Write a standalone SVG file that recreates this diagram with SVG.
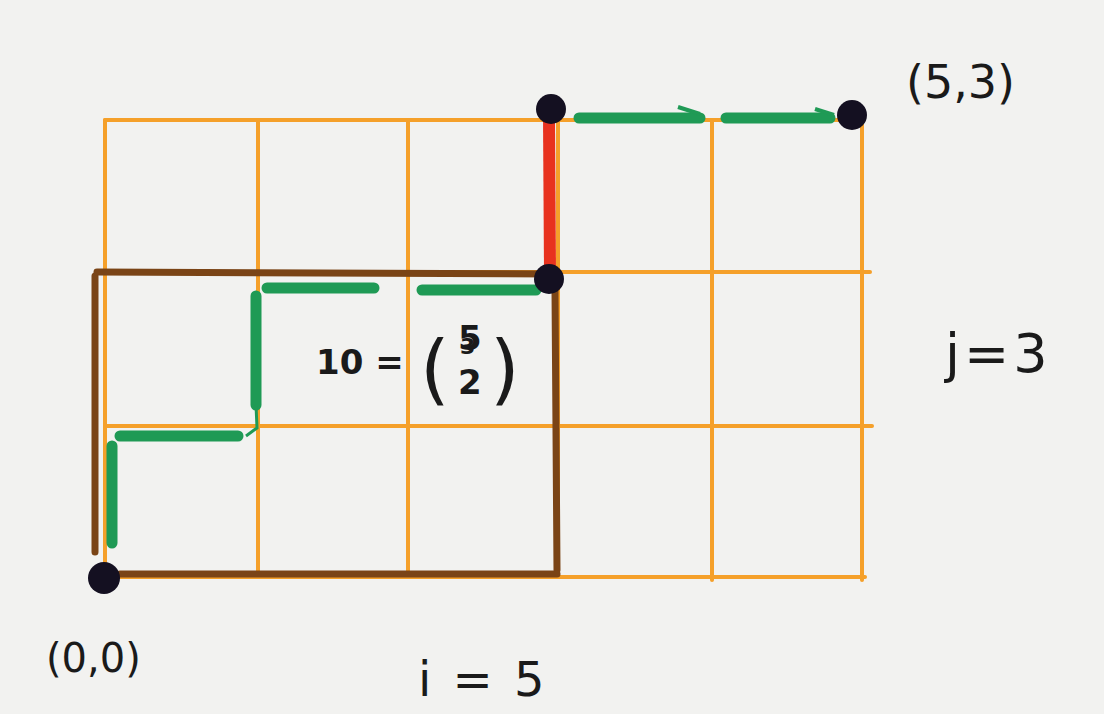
<svg xmlns="http://www.w3.org/2000/svg" width="1104" height="714" viewBox="0 0 1104 714">
<style>
.g{stroke:#f5a02a;stroke-width:4;fill:none;stroke-linecap:round}
.b{stroke:#7a4416;stroke-width:7;fill:none;stroke-linecap:round}
.gr{stroke:#1f9a55;stroke-width:11;fill:none;stroke-linecap:round}
.t{font-family:"DejaVu Sans",sans-serif;fill:#1a1a1a}
</style>
<rect width="1104" height="714" fill="#f2f2f0"/>
<g id="grid">
<line class="g" x1="105" y1="120" x2="862" y2="120"/>
<line class="g" x1="105" y1="272" x2="870" y2="272"/>
<line class="g" x1="105" y1="426" x2="872" y2="426"/>
<line class="g" x1="105" y1="577" x2="865" y2="577"/>
<line class="g" x1="105" y1="120" x2="105" y2="577"/>
<line class="g" x1="258" y1="120" x2="258" y2="577"/>
<line class="g" x1="408" y1="120" x2="408" y2="577"/>
<line class="g" x1="558" y1="120" x2="558" y2="577"/>
<line class="g" x1="712" y1="120" x2="712" y2="580"/>
<line class="g" x1="862" y1="120" x2="862" y2="580"/>
</g>
<g id="brown-rect">
<line class="b" x1="95" y1="276" x2="95" y2="552"/>
<line class="b" x1="97" y1="272" x2="552" y2="274"/>
<line class="b" x1="555" y1="290" x2="557" y2="570"/>
<line class="b" x1="120" y1="574" x2="557" y2="574"/>
</g>
<g id="red">
<line x1="549" y1="118" x2="550" y2="272" stroke="#e8321e" stroke-width="12"/>
</g>
<g id="connectors">
<line class="gr" x1="112" y1="446" x2="112" y2="543"/>
<line class="gr" x1="120" y1="436" x2="238" y2="436"/>
<line class="gr" x1="256" y1="296" x2="256" y2="405"/>
<path d="M256 405 L257 428 L246 436" stroke="#1f9a55" stroke-width="3" fill="none"/>
<line class="gr" x1="267" y1="288" x2="374" y2="288"/>
<line class="gr" x1="422" y1="290" x2="536" y2="290"/>
<line class="gr" x1="579" y1="118" x2="700" y2="118"/>
<path d="M678 107 L700 114" stroke="#1f9a55" stroke-width="4" fill="none"/>
<line class="gr" x1="726" y1="118" x2="830" y2="118"/>
<path d="M815 109 L834 115" stroke="#1f9a55" stroke-width="4" fill="none"/>
</g>
<g id="dots" fill="#141021">
<circle cx="551" cy="109" r="15"/>
<circle cx="852" cy="115" r="15"/>
<circle cx="549" cy="279" r="15"/>
<circle cx="104" cy="578" r="16"/>
</g>
<g id="labels">
<text class="t" x="906" y="98" font-size="46">(5,3)</text>
<text class="t" x="945" y="372" font-size="54" letter-spacing="4">j=3</text>
<text class="t" x="46" y="672" font-size="40">(0,0)</text>
<text class="t" x="418" y="696" font-size="48" letter-spacing="3">i = 5</text>
<text class="t" x="316" y="374" font-size="34" font-weight="bold">10 =</text>
<text class="t" x="420" y="395" font-size="76">(</text>
<text class="t" x="490" y="395" font-size="76">)</text>
<text class="t" x="458" y="350" font-size="34" font-weight="bold">5</text>
<text class="t" x="460" y="354" font-size="22" font-weight="bold">3</text>
<text class="t" x="458" y="394" font-size="34" font-weight="bold">2</text>
</g>
</svg>
